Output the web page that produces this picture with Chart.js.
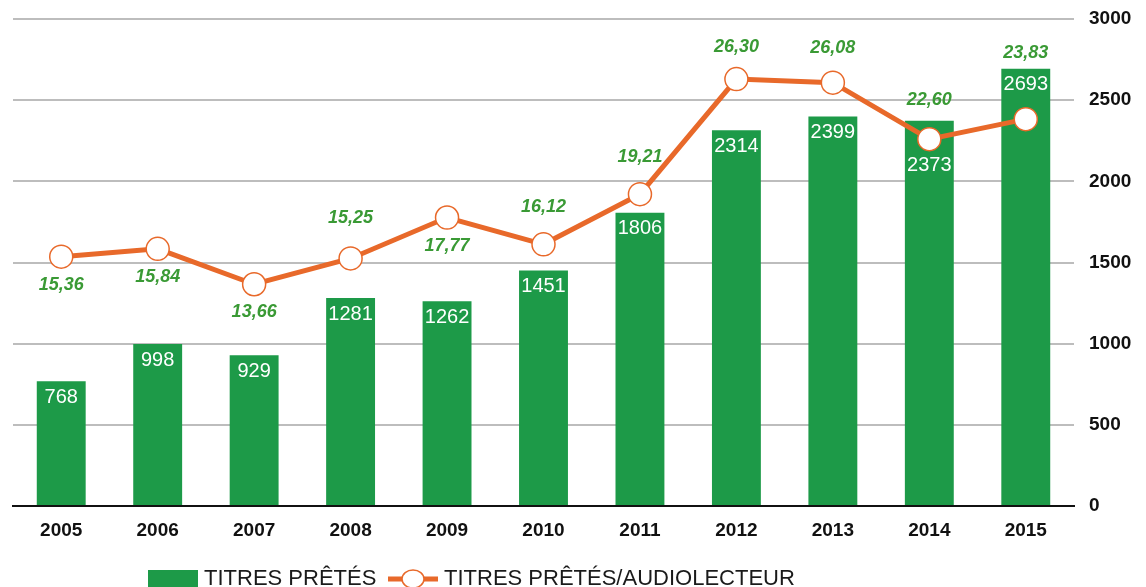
<!DOCTYPE html>
<html>
<head>
<meta charset="utf-8">
<script src="https://cdn.jsdelivr.net/npm/chart.js@4"></script>
<style>
  html, body { margin: 0; padding: 0; background: #fff; }
  #wrap { width: 1146px; height: 587px; }
</style>
</head>
<body>
<div id="wrap"><canvas id="chart" width="1146" height="587"></canvas></div>
<script>
// data
const years = ['2005', '2006', '2007', '2008', '2009', '2010', '2011', '2012', '2013', '2014', '2015'];
const titresPretes = [768, 998, 929, 1281, 1262, 1451, 1806, 2314, 2399, 2373, 2693];
const titresParLecteur = [15.36, 15.84, 13.66, 15.25, 17.77, 16.12, 19.21, 26.30, 26.08, 22.60, 23.83];
const yTicks = [0, 500, 1000, 1500, 2000, 2500, 3000];

const GREEN = '#1d9a48';
const ORANGE = '#e8692a';
const LABEL_GREEN = '#3a9a35';
const FONT = '"Liberation Sans", Arial, sans-serif';

// label nudges (px below the bar top / relative to the point, negative = above)
const barLabelShift = [16, 16, 16, 16, 16, 16, 16, 16, 16, 45, 16];
const ratioLabelShift = [28, 28, 28, -40, 28, -37, -37, -32, -35, -39, -66];

const valueLabels = {
    id: 'valueLabels',
    afterDatasetsDraw(chart) {
        const ctx = chart.ctx;
        const lineMeta = chart.getDatasetMeta(0);
        const barMeta = chart.getDatasetMeta(1);
        ctx.save();
        ctx.textAlign = 'center';
        ctx.textBaseline = 'middle';

        // bar values, white, inside the top of each bar
        ctx.fillStyle = '#fff';
        ctx.font = '20px ' + FONT;
        barMeta.data.forEach((bar, i) => {
            ctx.fillText(String(titresPretes[i]), bar.x, bar.y + barLabelShift[i]);
        });

        // ratio values, green italic
        ctx.fillStyle = LABEL_GREEN;
        ctx.font = 'italic bold 18px ' + FONT;
        lineMeta.data.forEach((pt, i) => {
            const txt = titresParLecteur[i].toFixed(2).replace('.', ',');
            ctx.fillText(txt, pt.x, pt.y + ratioLabelShift[i]);
        });
        ctx.restore();
    }
};

const bottomLegend = {
    id: 'bottomLegend',
    afterDraw(chart) {
        const ctx = chart.ctx;
        const y = 579;
        ctx.save();
        ctx.fillStyle = GREEN;
        ctx.fillRect(148, 570, 50, 17);

        ctx.fillStyle = '#1a1a1a';
        ctx.font = '22px ' + FONT;
        ctx.textBaseline = 'middle';
        ctx.textAlign = 'left';
        ctx.fillText('TITRES PRÊTÉS', 204, y);

        ctx.strokeStyle = ORANGE;
        ctx.lineWidth = 5;
        ctx.beginPath();
        ctx.moveTo(388, y);
        ctx.lineTo(438, y);
        ctx.stroke();
        ctx.beginPath();
        ctx.ellipse(413, y, 11, 9, 0, 0, Math.PI * 2);
        ctx.fillStyle = '#fff';
        ctx.fill();
        ctx.lineWidth = 1.5;
        ctx.stroke();

        ctx.fillStyle = '#1a1a1a';
        ctx.fillText('TITRES PRÊTÉS/AUDIOLECTEUR', 444, y);
        ctx.restore();
    }
};

new Chart(document.getElementById('chart').getContext('2d'), {
    data: {
        labels: years,
        datasets: [
            {
                type: 'line',
                label: 'TITRES PRÊTÉS/AUDIOLECTEUR',
                data: titresParLecteur,
                yAxisID: 'y1',
                borderColor: ORANGE,
                borderWidth: 5,
                pointRadius: 11.5,
                pointHoverRadius: 11.5,
                pointBackgroundColor: '#fff',
                pointBorderColor: ORANGE,
                pointBorderWidth: 1.5,
                tension: 0,
                order: 0
            },
            {
                type: 'bar',
                label: 'TITRES PRÊTÉS',
                data: titresPretes,
                yAxisID: 'y',
                backgroundColor: GREEN,
                borderWidth: 0,
                barPercentage: 0.507,
                categoryPercentage: 1,
                order: 1
            }
        ]
    },
    options: {
        responsive: false,
        animation: false,
        devicePixelRatio: 1,
        layout: { padding: { left: 8, top: 19, right: 0, bottom: 0 } },
        plugins: {
            legend: { display: false },
            tooltip: { enabled: false }
        },
        scales: {
            x: {
                grid: { display: false, drawTicks: false },
                border: { display: true, color: '#111', width: 2 },
                ticks: {
                    color: '#111',
                    padding: 13,
                    font: { family: FONT, size: 19, weight: 'bold' }
                },
                afterFit(scale) {
                    scale.height = 81;
                    scale.paddingLeft = 0;
                    scale.paddingRight = 0;
                }
            },
            y: {
                position: 'right',
                min: 0,
                max: 3000,
                afterBuildTicks(scale) { scale.ticks = yTicks.map(v => ({ value: v })); },
                grid: { color: '#bdbdbd', lineWidth: 2, drawTicks: false },
                border: { display: false },
                ticks: {
                    color: '#111',
                    padding: 15,
                    callback: v => String(v),
                    font: { family: FONT, size: 19, weight: 'bold' }
                },
                afterFit(scale) {
                    scale.width = 72;
                    scale.paddingTop = 0;
                    scale.paddingBottom = 0;
                }
            },
            y1: {
                display: false,
                min: 0,
                max: 30
            }
        }
    },
    plugins: [valueLabels, bottomLegend]
});
</script>
</body>
</html>
